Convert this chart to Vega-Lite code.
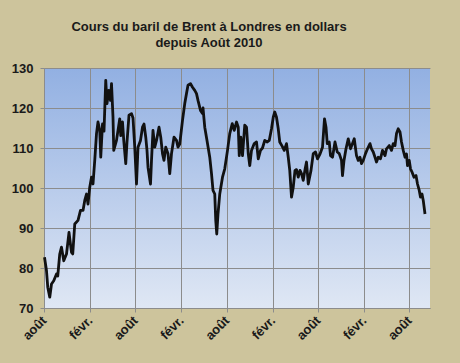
{
  "$schema": "https://vega.github.io/schema/vega-lite/v6.json",
  "width": 386,
  "height": 240,
  "autosize": {"type": "none"},
  "padding": {"left": 44, "top": 68, "right": 30, "bottom": 55},
  "background": "#cdc49c",
  "title": {
    "text": ["Cours du baril de Brent à Londres en dollars", "depuis Août 2010"],
    "font": "Liberation Sans",
    "fontSize": 13,
    "fontWeight": "bold",
    "color": "#1a1a1a",
    "lineHeight": 16,
    "anchor": "middle",
    "dx": -28,
    "offset": 12
  },
  "config": {
    "view": {
      "stroke": null,
      "fill": {
        "gradient": "linear",
        "x1": 0, "y1": 1, "x2": 0, "y2": 0,
        "stops": [
          {"offset": 0, "color": "#dfe7f4"},
          {"offset": 1, "color": "#92b0e2"}
        ]
      }
    },
    "axis": {
      "labelFont": "Liberation Sans",
      "labelFontWeight": "bold",
      "labelColor": "#1a1a1a",
      "gridColor": "#8c8c8c",
      "gridOpacity": 1,
      "gridWidth": 1,
      "domainColor": "#8c8c8c",
      "tickColor": "#8c8c8c",
      "tickSize": 4,
      "title": null
    }
  },
  "data": {
    "values": [
      {"date": "2010-08-03", "price": 82.7},
      {"date": "2010-08-11", "price": 79.3},
      {"date": "2010-08-16", "price": 75.2},
      {"date": "2010-08-24", "price": 72.7},
      {"date": "2010-08-31", "price": 76.0},
      {"date": "2010-09-09", "price": 76.8},
      {"date": "2010-09-20", "price": 78.5},
      {"date": "2010-09-25", "price": 78.0},
      {"date": "2010-10-03", "price": 83.5},
      {"date": "2010-10-10", "price": 85.2},
      {"date": "2010-10-19", "price": 81.8},
      {"date": "2010-10-30", "price": 83.5},
      {"date": "2010-11-09", "price": 88.9},
      {"date": "2010-11-19", "price": 83.9},
      {"date": "2010-11-24", "price": 83.5},
      {"date": "2010-12-02", "price": 91.0},
      {"date": "2010-12-15", "price": 91.9},
      {"date": "2010-12-25", "price": 94.4},
      {"date": "2011-01-04", "price": 94.4},
      {"date": "2011-01-11", "price": 96.9},
      {"date": "2011-01-18", "price": 98.5},
      {"date": "2011-01-24", "price": 96.0},
      {"date": "2011-01-31", "price": 100.2},
      {"date": "2011-02-07", "price": 102.7},
      {"date": "2011-02-13", "price": 101.0},
      {"date": "2011-02-20", "price": 106.9},
      {"date": "2011-02-27", "price": 113.6},
      {"date": "2011-03-05", "price": 116.5},
      {"date": "2011-03-12", "price": 114.4},
      {"date": "2011-03-16", "price": 107.7},
      {"date": "2011-03-23", "price": 116.0},
      {"date": "2011-03-29", "price": 114.2},
      {"date": "2011-04-05", "price": 126.9},
      {"date": "2011-04-10", "price": 121.1},
      {"date": "2011-04-17", "price": 124.4},
      {"date": "2011-04-24", "price": 121.9},
      {"date": "2011-04-28", "price": 126.1},
      {"date": "2011-05-04", "price": 117.7},
      {"date": "2011-05-07", "price": 109.4},
      {"date": "2011-05-18", "price": 111.9},
      {"date": "2011-05-24", "price": 114.4},
      {"date": "2011-05-31", "price": 117.3},
      {"date": "2011-06-04", "price": 113.1},
      {"date": "2011-06-11", "price": 116.5},
      {"date": "2011-06-16", "price": 111.9},
      {"date": "2011-06-24", "price": 106.1},
      {"date": "2011-06-29", "price": 111.5},
      {"date": "2011-07-07", "price": 118.2},
      {"date": "2011-07-17", "price": 118.6},
      {"date": "2011-07-23", "price": 117.5},
      {"date": "2011-07-30", "price": 110.2},
      {"date": "2011-08-06", "price": 101.0},
      {"date": "2011-08-12", "price": 110.2},
      {"date": "2011-08-22", "price": 111.9},
      {"date": "2011-08-30", "price": 115.2},
      {"date": "2011-09-05", "price": 116.0},
      {"date": "2011-09-12", "price": 112.7},
      {"date": "2011-09-17", "price": 109.4},
      {"date": "2011-09-21", "price": 105.2},
      {"date": "2011-10-01", "price": 101.0},
      {"date": "2011-10-05", "price": 106.9},
      {"date": "2011-10-11", "price": 114.4},
      {"date": "2011-10-18", "price": 110.2},
      {"date": "2011-10-25", "price": 111.9},
      {"date": "2011-11-04", "price": 115.2},
      {"date": "2011-11-11", "price": 112.7},
      {"date": "2011-11-18", "price": 108.6},
      {"date": "2011-11-24", "price": 106.9},
      {"date": "2011-12-01", "price": 110.2},
      {"date": "2011-12-10", "price": 108.6},
      {"date": "2011-12-17", "price": 103.6},
      {"date": "2011-12-24", "price": 108.6},
      {"date": "2012-01-03", "price": 112.7},
      {"date": "2012-01-13", "price": 111.9},
      {"date": "2012-01-19", "price": 110.2},
      {"date": "2012-01-26", "price": 111.0},
      {"date": "2012-02-06", "price": 116.9},
      {"date": "2012-02-15", "price": 121.1},
      {"date": "2012-02-22", "price": 123.6},
      {"date": "2012-02-28", "price": 125.7},
      {"date": "2012-03-09", "price": 126.1},
      {"date": "2012-03-17", "price": 125.2},
      {"date": "2012-03-26", "price": 124.4},
      {"date": "2012-04-02", "price": 123.6},
      {"date": "2012-04-08", "price": 121.9},
      {"date": "2012-04-18", "price": 119.4},
      {"date": "2012-04-26", "price": 118.6},
      {"date": "2012-04-28", "price": 120.0},
      {"date": "2012-05-05", "price": 115.2},
      {"date": "2012-05-14", "price": 111.9},
      {"date": "2012-05-25", "price": 107.7},
      {"date": "2012-06-01", "price": 103.6},
      {"date": "2012-06-07", "price": 99.4},
      {"date": "2012-06-14", "price": 98.5},
      {"date": "2012-06-18", "price": 91.9},
      {"date": "2012-06-22", "price": 88.5},
      {"date": "2012-06-27", "price": 93.5},
      {"date": "2012-07-04", "price": 98.5},
      {"date": "2012-07-15", "price": 102.7},
      {"date": "2012-07-24", "price": 104.8},
      {"date": "2012-08-04", "price": 109.4},
      {"date": "2012-08-13", "price": 113.6},
      {"date": "2012-08-23", "price": 116.1},
      {"date": "2012-08-31", "price": 114.4},
      {"date": "2012-09-09", "price": 116.5},
      {"date": "2012-09-16", "price": 115.2},
      {"date": "2012-09-20", "price": 108.1},
      {"date": "2012-09-26", "price": 112.7},
      {"date": "2012-10-03", "price": 108.1},
      {"date": "2012-10-12", "price": 115.7},
      {"date": "2012-10-19", "price": 115.2},
      {"date": "2012-10-26", "price": 108.6},
      {"date": "2012-11-01", "price": 105.6},
      {"date": "2012-11-08", "price": 109.4},
      {"date": "2012-11-19", "price": 111.1},
      {"date": "2012-11-28", "price": 111.5},
      {"date": "2012-12-05", "price": 107.3},
      {"date": "2012-12-14", "price": 109.4},
      {"date": "2012-12-22", "price": 110.0},
      {"date": "2012-12-31", "price": 111.9},
      {"date": "2013-01-10", "price": 111.5},
      {"date": "2013-01-18", "price": 111.9},
      {"date": "2013-01-27", "price": 114.8},
      {"date": "2013-02-03", "price": 117.7},
      {"date": "2013-02-09", "price": 119.0},
      {"date": "2013-02-16", "price": 117.7},
      {"date": "2013-02-23", "price": 114.8},
      {"date": "2013-03-01", "price": 111.5},
      {"date": "2013-03-11", "price": 110.4},
      {"date": "2013-03-19", "price": 109.4},
      {"date": "2013-03-28", "price": 111.1},
      {"date": "2013-04-04", "price": 107.7},
      {"date": "2013-04-10", "price": 104.4},
      {"date": "2013-04-17", "price": 97.7},
      {"date": "2013-04-24", "price": 100.2},
      {"date": "2013-05-01", "price": 104.4},
      {"date": "2013-05-07", "price": 104.6},
      {"date": "2013-05-14", "price": 102.7},
      {"date": "2013-05-21", "price": 104.4},
      {"date": "2013-05-27", "price": 103.6},
      {"date": "2013-06-03", "price": 101.9},
      {"date": "2013-06-10", "price": 104.6},
      {"date": "2013-06-16", "price": 106.5},
      {"date": "2013-06-23", "price": 101.0},
      {"date": "2013-07-04", "price": 104.4},
      {"date": "2013-07-13", "price": 108.6},
      {"date": "2013-07-22", "price": 109.0},
      {"date": "2013-07-30", "price": 107.3},
      {"date": "2013-08-09", "price": 108.5},
      {"date": "2013-08-19", "price": 110.2},
      {"date": "2013-08-27", "price": 117.3},
      {"date": "2013-09-02", "price": 115.2},
      {"date": "2013-09-07", "price": 111.1},
      {"date": "2013-09-15", "price": 111.5},
      {"date": "2013-09-20", "price": 108.1},
      {"date": "2013-09-28", "price": 107.7},
      {"date": "2013-10-08", "price": 111.5},
      {"date": "2013-10-17", "price": 109.0},
      {"date": "2013-10-25", "price": 108.6},
      {"date": "2013-11-03", "price": 106.9},
      {"date": "2013-11-07", "price": 103.1},
      {"date": "2013-11-13", "price": 106.9},
      {"date": "2013-11-21", "price": 109.8},
      {"date": "2013-11-30", "price": 112.3},
      {"date": "2013-12-09", "price": 109.8},
      {"date": "2013-12-17", "price": 111.1},
      {"date": "2013-12-24", "price": 112.3},
      {"date": "2014-01-02", "price": 108.1},
      {"date": "2014-01-09", "price": 106.9},
      {"date": "2014-01-16", "price": 107.7},
      {"date": "2014-01-22", "price": 106.1},
      {"date": "2014-01-29", "price": 106.9},
      {"date": "2014-02-07", "price": 108.6},
      {"date": "2014-02-15", "price": 109.8},
      {"date": "2014-02-25", "price": 111.1},
      {"date": "2014-03-03", "price": 109.8},
      {"date": "2014-03-10", "price": 109.0},
      {"date": "2014-03-17", "price": 107.7},
      {"date": "2014-03-23", "price": 106.5},
      {"date": "2014-03-30", "price": 107.7},
      {"date": "2014-04-08", "price": 107.3},
      {"date": "2014-04-16", "price": 109.4},
      {"date": "2014-04-26", "price": 108.1},
      {"date": "2014-05-02", "price": 109.8},
      {"date": "2014-05-13", "price": 110.6},
      {"date": "2014-05-22", "price": 109.4},
      {"date": "2014-05-29", "price": 111.1},
      {"date": "2014-06-05", "price": 110.6},
      {"date": "2014-06-11", "price": 113.6},
      {"date": "2014-06-18", "price": 114.8},
      {"date": "2014-06-25", "price": 114.0},
      {"date": "2014-07-01", "price": 111.5},
      {"date": "2014-07-08", "price": 109.4},
      {"date": "2014-07-15", "price": 107.7},
      {"date": "2014-07-21", "price": 108.5},
      {"date": "2014-07-25", "price": 105.6},
      {"date": "2014-08-01", "price": 106.9},
      {"date": "2014-08-06", "price": 104.8},
      {"date": "2014-08-12", "price": 104.0},
      {"date": "2014-08-20", "price": 102.7},
      {"date": "2014-08-28", "price": 103.1},
      {"date": "2014-09-03", "price": 101.0},
      {"date": "2014-09-10", "price": 99.4},
      {"date": "2014-09-15", "price": 97.7},
      {"date": "2014-09-21", "price": 98.5},
      {"date": "2014-09-26", "price": 96.9},
      {"date": "2014-10-03", "price": 93.5}
    ]
  },
  "mark": {"type": "line", "color": "#111111", "strokeWidth": 2.8, "strokeJoin": "round"},
  "encoding": {
    "x": {
      "field": "date",
      "type": "temporal",
      "scale": {"type": "utc", "domain": [{"year": 2010, "month": 8, "date": 1, "utc": true}, {"year": 2014, "month": 10, "date": 23, "utc": true}]},
      "axis": {
        "values": [
          {"year": 2010, "month": 8, "date": 1, "utc": true},
          {"year": 2011, "month": 2, "date": 1, "utc": true},
          {"year": 2011, "month": 8, "date": 1, "utc": true},
          {"year": 2012, "month": 2, "date": 1, "utc": true},
          {"year": 2012, "month": 8, "date": 1, "utc": true},
          {"year": 2013, "month": 2, "date": 1, "utc": true},
          {"year": 2013, "month": 8, "date": 1, "utc": true},
          {"year": 2014, "month": 2, "date": 1, "utc": true},
          {"year": 2014, "month": 8, "date": 1, "utc": true}
        ],
        "labelExpr": "utcmonth(datum.value) == 7 ? 'août' : 'févr.'",
        "labelAngle": -45,
        "labelAlign": "right",
        "labelBaseline": "middle",
        "labelFontSize": 13,
        "labelPadding": 6,
        "labelFlush": false,
        "labelOverlap": false
      }
    },
    "y": {
      "field": "price",
      "type": "quantitative",
      "scale": {"domain": [70, 130], "nice": false, "zero": false},
      "axis": {
        "values": [70, 80, 90, 100, 110, 120, 130],
        "labelFontSize": 13,
        "labelPadding": 7
      }
    }
  }
}
